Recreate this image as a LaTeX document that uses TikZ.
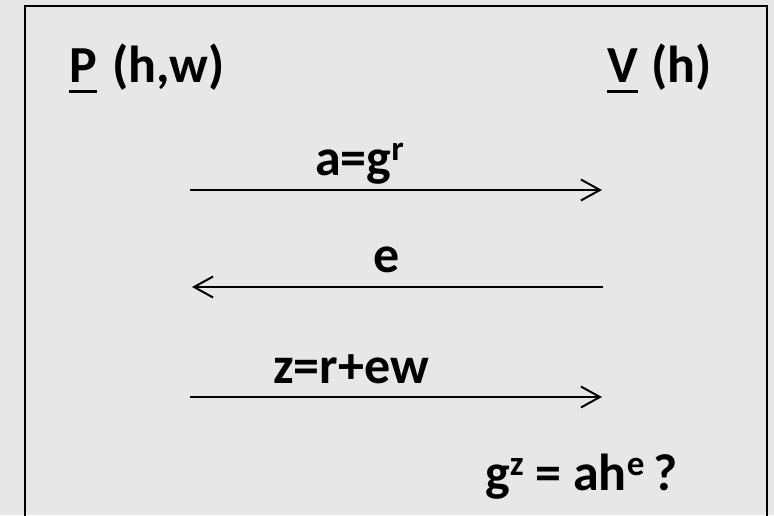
\documentclass[tikz,border=0pt]{standalone}
\usepackage{fontspec}
\setmainfont{Carlito}
\usepackage{xcolor}
\usetikzlibrary{arrows.meta}

\definecolor{bggray}{HTML}{E7E7E7}
\newcommand{\supx}[1]{\raisebox{15pt}{\fontsize{35}{35}\selectfont #1}}

\begin{document}
\begin{tikzpicture}[
    x=1pt, y=-1pt,
    txt/.style={font=\fontsize{52}{62}\selectfont\bfseries, inner sep=0pt,
                anchor=base west},
    msgarrow/.style={-{Straight Barb[length=19pt, width=21pt, line width=2pt]},
                     line width=2pt},
    ulbar/.style={line width=3pt},
  ]
    \useasboundingbox[fill=bggray] (0,0) rectangle (774,515);
    % frame, open at the bottom
    \draw[line width=2pt] (25,6) rectangle (767,530);

    % parties
    \node[txt] (prover) at (69,82) {P};
    \node[txt] (pargs) at (112,82) {(h,w)};
    \node[txt] (verifier) at (607,82) {V};
    \node[txt] (vargs) at (651,82) {(h)};
    \draw[ulbar] ([yshift=-9pt]prover.base west) -- ([yshift=-9pt]prover.base east);
    \draw[ulbar] ([yshift=-9pt]verifier.base west) -- ([yshift=-9pt]verifier.base east);

    % messages
    \coordinate (m1l) at (190,190);
    \coordinate (m1r) at (602,190);
    \draw[msgarrow] (m1l) -- (m1r);
    \node[txt] (commit) at (315,175) {a=g\supx{r}};

    \coordinate (m2l) at (192,287);
    \coordinate (m2r) at (603,287);
    \draw[msgarrow] (m2r) -- (m2l);
    \node[txt] (chal) at (373,272) {e};

    \coordinate (m3l) at (190,397);
    \coordinate (m3r) at (602,397);
    \draw[msgarrow] (m3l) -- (m3r);
    \node[txt] (resp) at (273,383) {z=r+ew};

    % verifier check
    \node[txt] (check) at (485,490) {g\supx{z} = ah\supx{e}\,?};
\end{tikzpicture}
\end{document}
